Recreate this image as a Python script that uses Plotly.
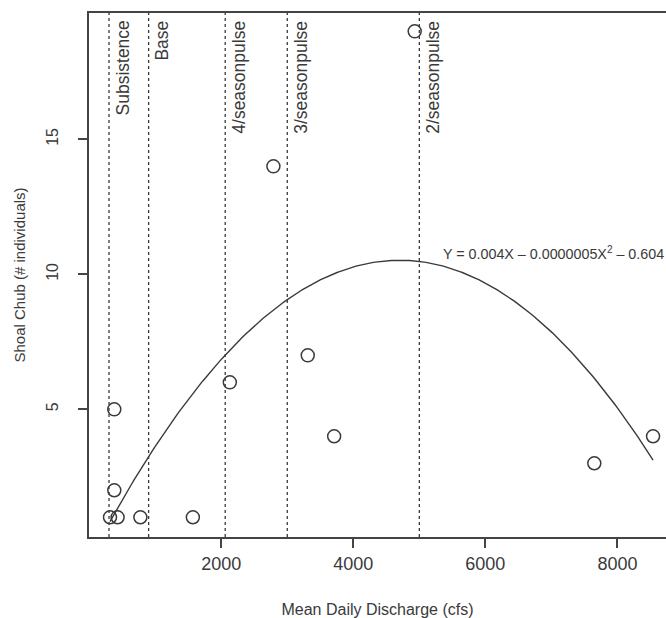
import numpy as np
import plotly.graph_objects as go

# Observed data (Mean daily discharge in cfs, Shoal Chub counts)
discharge = [315, 430, 775, 1570, 380, 380, 2130, 3710, 3310, 2790, 4930, 7650, 8540]
shoal_chub = [1, 1, 1, 1, 2, 5, 6, 4, 7, 14, 19, 3, 4]

# Flow thresholds (vertical dotted lines)
threshold_names = ["Subsistence", "Base", "4/seasonpulse", "3/seasonpulse", "2/seasonpulse"]
threshold_values = [300, 900, 2060, 3000, 5000]

x_ticks = [2000, 4000, 6000, 8000]
y_ticks = [5, 10, 15]

equation_text = "Y = 0.004X \u2013 0.0000005X<sup>2</sup> \u2013 0.604"

INK = "#3a3a3a"
FONT = "Liberation Sans, Arial, sans-serif"

# Quadratic fit of the observed data
coef = np.polyfit(discharge, shoal_chub, 2)
x_fit = np.linspace(min(discharge), max(discharge), 300)
y_fit = np.polyval(coef, x_fit)

fig = go.Figure()
fig.add_trace(go.Scatter(x=x_fit, y=y_fit, mode="lines",
                         line=dict(color=INK, width=1.4), hoverinfo="skip",
                         showlegend=False))
fig.add_trace(go.Scatter(x=discharge, y=shoal_chub, mode="markers",
                         marker=dict(symbol="circle-open", size=13, color=INK,
                                     line=dict(color=INK, width=1.5)),
                         showlegend=False))

for name, val in zip(threshold_names, threshold_values):
    fig.add_shape(type="line", xref="x", yref="paper", x0=val, x1=val, y0=0, y1=1,
                  line=dict(color=INK, width=1.3, dash="dot"))
    fig.add_annotation(x=val, xref="x", y=1, yref="paper", text=name,
                       textangle=-90, xanchor="left", yanchor="top",
                       xshift=1, yshift=-6, showarrow=False,
                       font=dict(family=FONT, size=17.5, color=INK))

fig.add_annotation(x=5330, y=10.78, xref="x", yref="y", text=equation_text,
                   xanchor="left", yanchor="middle", showarrow=False,
                   font=dict(family=FONT, size=14.3, color=INK))

fig.update_layout(
    width=666, height=618,
    margin=dict(l=89, r=0, t=13, b=81),
    paper_bgcolor="white", plot_bgcolor="white",
    font=dict(family=FONT, color=INK),
    xaxis=dict(range=[-3, 8736], tickvals=x_ticks, ticks="outside", ticklen=9,
               tickwidth=1.5, tickcolor="#444", showline=True, linewidth=2,
               linecolor="#444", mirror=True, showgrid=False, zeroline=False,
               automargin=False,
               tickfont=dict(size=18, color=INK), ticklabelstandoff=0,
               title=dict(text="Mean Daily Discharge (cfs)", font=dict(size=16, color=INK),
                          standoff=32)),
    yaxis=dict(range=[0.27, 19.68], tickvals=y_ticks, ticks="outside", ticklen=9,
               tickwidth=1.5, tickcolor="#444", showline=True, linewidth=2,
               linecolor="#444", mirror=False, showgrid=False, zeroline=False,
               automargin=False,
               tickangle=-90, tickfont=dict(size=16, color=INK), ticklabelstandoff=14,
               title=dict(text="Shoal Chub (# individuals)", font=dict(size=15, color=INK),
                          standoff=14)),
)

fig.write_html("out.html", config={"displayModeBar": False},
               post_script="document.body.style.margin='0';document.body.style.padding='0';")
